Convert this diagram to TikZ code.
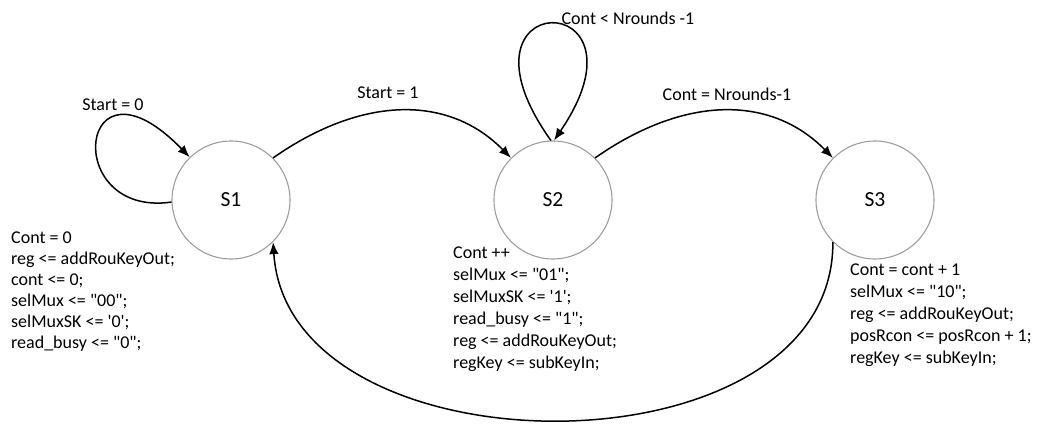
\documentclass[tikz,border=0pt]{standalone}
\usepackage{fontspec}
\setmainfont{Carlito}[Ligatures=TeXOff]
\usetikzlibrary{arrows.meta}
\begin{document}
\begin{tikzpicture}[x=1pt,y=-1pt,
  font=\fontsize{18}{21}\selectfont,
  stnode/.style={circle,draw=black!38,line width=1.1pt,minimum size=118pt,inner sep=0pt,fill=white,font=\fontsize{21.5}{24}\selectfont},
  trans/.style={line width=1.5pt,-{Latex[length=12pt,width=9.5pt]}},
  lbl/.style={inner sep=0pt},
  acts/.style={align=left,anchor=north west,inner sep=0pt}]
\useasboundingbox (0,0) rectangle (1039,425);

% states
\node[stnode] (s1) at (231,200) {S1};
\node[stnode] (s2) at (553,200) {S2};
\node[stnode] (s3) at (875,200) {S3};

% self loops
\draw[trans] (s1.182) .. controls (60,218) and (78,42) .. (s1.134);
\node[lbl] (l0) at (113,105) {Start = 0};

\draw[trans] (s2.92) .. controls (440,-15) and (660,-15) .. (s2.89);
\node[lbl] (lloop) at (628,18) {Cont < Nrounds -1};

% forward transitions
\draw[trans] (s1.45) .. controls (363,95) and (449,95) .. (s2.135);
\node[lbl] (l1) at (388,93) {Start = 1};

\draw[trans] (s2.45) .. controls (685,95) and (771,95) .. (s3.135);
\node[lbl] (l2) at (727,94) {Cont = Nrounds-1};

% return transition
\draw[trans] (s3.225) .. controls (834,480) and (288,478) .. (s1.315);

% state actions
\node[acts] (a1) at (11,232) {Cont = 0\\reg <= addRouKeyOut;\\cont <= 0;\\selMux <= "00";\\selMuxSK <= '0';\\read\_busy <= "0";};
\node[acts,font=\fontsize{18}{22}\selectfont] (a2) at (453,247) {Cont ++\\selMux <= "01";\\selMuxSK <= '1';\\read\_busy <= "1";\\reg <= addRouKeyOut;\\regKey <= subKeyIn;};
\node[acts,font=\fontsize{18}{22}\selectfont] (a3) at (850,264) {Cont = cont + 1\\selMux <= "10";\\reg <= addRouKeyOut;\\posRcon <= posRcon + 1;\\regKey <= subKeyIn;};
\end{tikzpicture}
\end{document}
